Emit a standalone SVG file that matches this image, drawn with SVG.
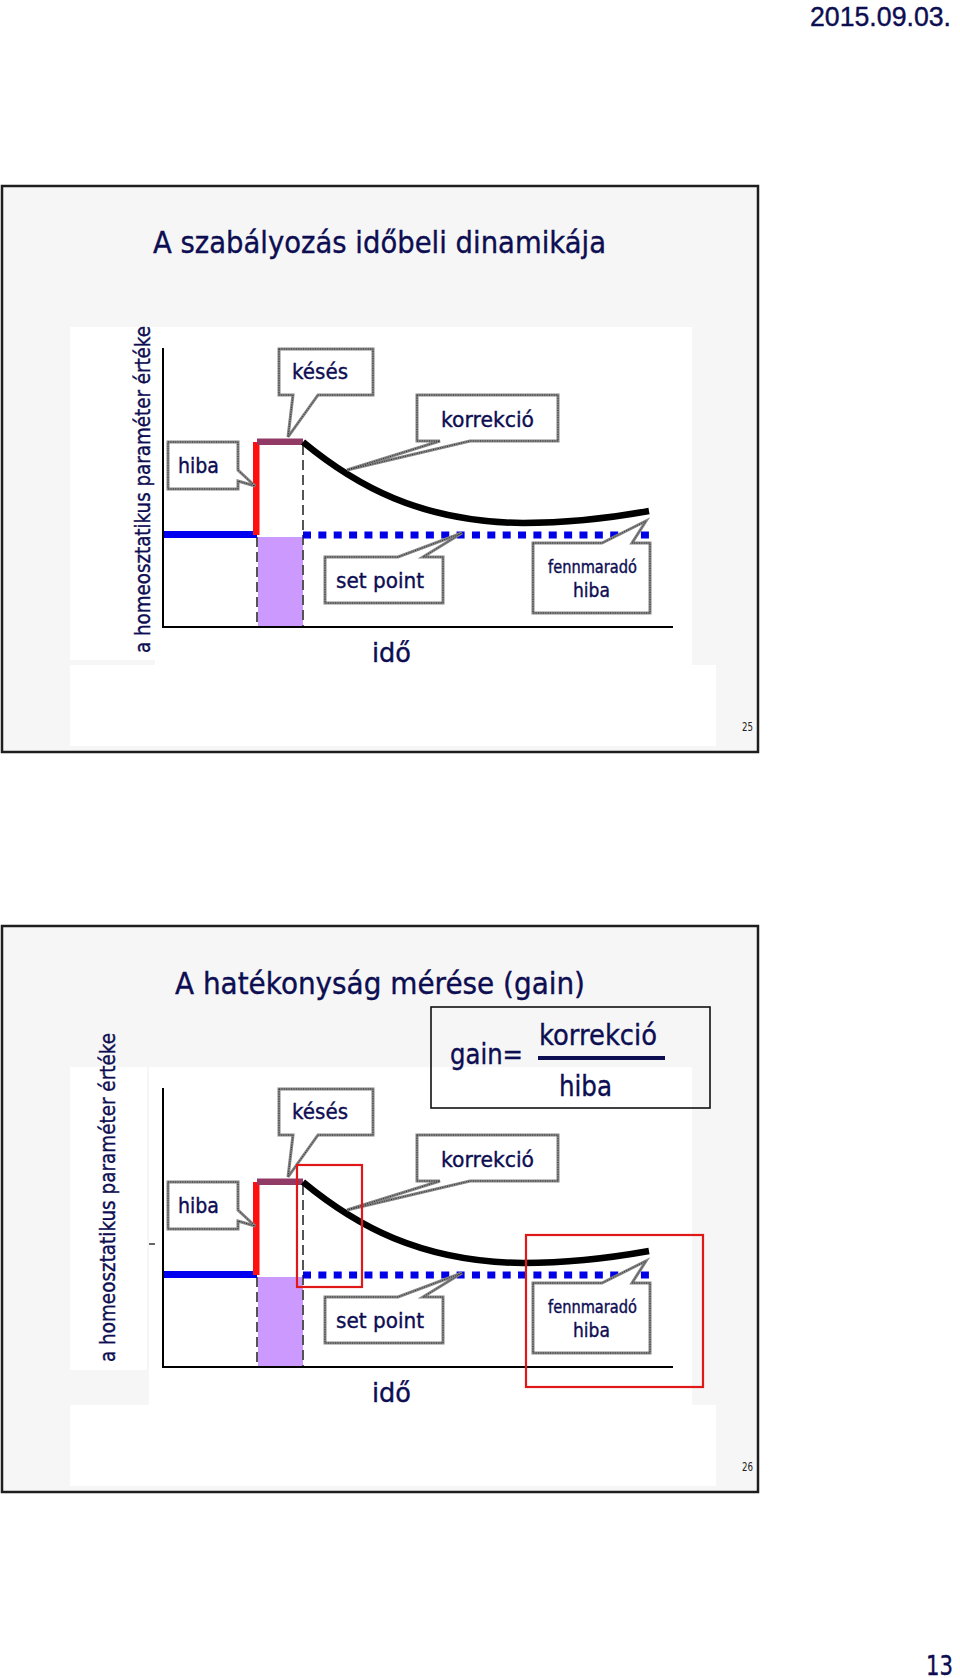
<svg xmlns="http://www.w3.org/2000/svg" width="960" height="1678" viewBox="0 0 960 1678">
<style>
text { font-family: "DejaVu Sans", "Noto Sans", sans-serif; fill: #0d0d52; stroke: #0d0d52; stroke-width: 0.4; }
.slide { fill: #f6f6f6; stroke: #1e1e1e; stroke-width: 2.5; }
.wh { fill: #ffffff; }
.axis { stroke: #000; stroke-width: 2; fill: none; }
.co { fill: #ffffff; stroke: #858585; stroke-width: 3; stroke-linejoin: miter; }
.co2 { fill: none; stroke: #2a2a2a; stroke-width: 1; stroke-dasharray: 1 1.4; }
.gdash { stroke: #555; stroke-width: 2; stroke-dasharray: 10 5; fill: none; }
.curve { stroke: #000; stroke-width: 6.5; fill: none; stroke-linecap: butt; }
.sp { stroke: #0000e6; stroke-width: 7; stroke-dasharray: 8 7.36; fill: none; }
.solid { stroke: #0000f0; stroke-width: 7; fill: none; }
.redbox { fill: none; stroke: #e01818; stroke-width: 2.2; }
.pn { fill: #222; stroke: none; font-size: 12px; }
</style>

<rect x="0" y="0" width="960" height="1678" fill="#ffffff"/>

<g id="date"><text x="810" y="26" font-size="27" style="font-family:'Liberation Sans', Arial, sans-serif" textLength="141" lengthAdjust="spacingAndGlyphs">2015.09.03.</text></g>

<!-- ================= SLIDE 1 ================= -->
<g id="slide1">
  <rect class="slide" x="2" y="186" width="756" height="566"/>
  <rect class="wh" x="70" y="327" width="85" height="333"/>
  <rect class="wh" x="155" y="327" width="537" height="338"/>
  <rect class="wh" x="70" y="665" width="646" height="81"/>
  <g id="title1"><text x="153" y="253" font-size="31" textLength="453" lengthAdjust="spacingAndGlyphs">A szabályozás időbeli dinamikája</text></g>
  <g id="ylabel1"><text transform="translate(150,653) rotate(-90)" font-size="22" textLength="327" lengthAdjust="spacingAndGlyphs">a homeosztatikus paraméter értéke</text></g>

  <g id="chart1">
    <rect x="258" y="537" width="45" height="90" fill="#cc99ff"/>
    <line class="gdash" x1="257" y1="537" x2="257" y2="627"/>
    <line class="gdash" x1="303" y1="445" x2="303" y2="627"/>
    <line class="solid" x1="163" y1="534.5" x2="257" y2="534.5"/>
    <rect x="253" y="442" width="6.5" height="93" fill="#ff1010"/>
    <rect x="257" y="438.5" width="46" height="6.5" fill="#913a66"/>
    <line class="sp" x1="303" y1="535" x2="649" y2="535"/>
    <path class="curve" d="M303,442 C355,485 420,522 523,523 C570,523 610,518 649,511"/>
    <line class="axis" x1="163" y1="348" x2="163" y2="628"/>
    <line class="axis" x1="162" y1="627" x2="673" y2="627"/>
  </g>

  <g id="keses1">
    <path class="co" d="M279,349 H373 V395 H318 L288,437 L293,395 H279 Z"/>
    <path class="co2" d="M279,349 H373 V395 H318 L288,437 L293,395 H279 Z"/>
    <text x="292" y="379" font-size="22" textLength="56" lengthAdjust="spacingAndGlyphs">késés</text>
  </g>
  <g id="korrekcio1">
    <path class="co" d="M417,395 H558 V441 H470 L347,470 L440,441 H417 Z"/>
    <path class="co2" d="M417,395 H558 V441 H470 L347,470 L440,441 H417 Z"/>
    <text x="441" y="427" font-size="22" textLength="93" lengthAdjust="spacingAndGlyphs">korrekció</text>
  </g>
  <g id="hiba1">
    <path class="co" d="M168,442 H238 V470 L255,486 L238,481 V489 H168 Z"/>
    <path class="co2" d="M168,442 H238 V470 L255,486 L238,481 V489 H168 Z"/>
    <text x="178" y="473" font-size="22" textLength="41" lengthAdjust="spacingAndGlyphs">hiba</text>
  </g>
  <g id="setpoint1">
    <path class="co" d="M325,557 H398 L462,533 L423,557 H443 V603 H325 Z"/>
    <path class="co2" d="M325,557 H398 L462,533 L423,557 H443 V603 H325 Z"/>
    <text x="336" y="588" font-size="22" textLength="88" lengthAdjust="spacingAndGlyphs">set point</text>
  </g>
  <g id="fennmarado1">
    <path class="co" d="M533,543 H602 L646,521 L632,543 H650 V613 H533 Z"/>
    <path class="co2" d="M533,543 H602 L646,521 L632,543 H650 V613 H533 Z"/>
    <text x="548" y="573" font-size="17" textLength="89" lengthAdjust="spacingAndGlyphs">fennmaradó</text>
    <text x="573" y="597" font-size="20" textLength="37" lengthAdjust="spacingAndGlyphs">hiba</text>
  </g>
  <g id="ido1"><text x="372" y="662" font-size="27" textLength="39" lengthAdjust="spacingAndGlyphs">idő</text></g>
  <g id="pn25"><text class="pn" x="742" y="731" textLength="11" lengthAdjust="spacingAndGlyphs">25</text></g>
</g>

<!-- ================= SLIDE 2 ================= -->
<g id="slide2">
  <rect class="slide" x="2" y="926" width="756" height="566"/>
  <rect class="wh" x="70" y="1067" width="77" height="303"/>
  <rect class="wh" x="149" y="1067" width="543" height="338"/>
  <rect class="wh" x="70" y="1405" width="646" height="81"/>
  <g id="title2"><text x="175" y="994" font-size="31" textLength="410" lengthAdjust="spacingAndGlyphs">A hatékonyság mérése (gain)</text></g>
  <g id="ylabel2"><text transform="translate(115,1362) rotate(-90)" font-size="22" textLength="329" lengthAdjust="spacingAndGlyphs">a homeosztatikus paraméter értéke</text></g>

  <g id="gainbox">
    <rect x="431" y="1007" width="279" height="101" fill="none" stroke="#111" stroke-width="1.6"/>
    <text x="450" y="1064" font-size="28" textLength="73" lengthAdjust="spacingAndGlyphs">gain=</text>
    <text x="539" y="1045" font-size="29" textLength="118" lengthAdjust="spacingAndGlyphs">korrekció</text>
    <line x1="538" y1="1058" x2="665" y2="1058" stroke="#0d0d52" stroke-width="4"/>
    <text x="559" y="1096" font-size="28" textLength="53" lengthAdjust="spacingAndGlyphs">hiba</text>
  </g>

  <g id="chart2">
    <rect x="258" y="1277" width="45" height="90" fill="#cc99ff"/>
    <line class="gdash" x1="257" y1="1277" x2="257" y2="1367"/>
    <line class="gdash" x1="303" y1="1185" x2="303" y2="1367"/>
    <line class="solid" x1="163" y1="1274.5" x2="257" y2="1274.5"/>
    <rect x="253" y="1182" width="6.5" height="93" fill="#ff1010"/>
    <rect x="257" y="1178.5" width="46" height="6.5" fill="#913a66"/>
    <line class="sp" x1="303" y1="1275" x2="649" y2="1275"/>
    <path class="curve" d="M303,1182 C355,1225 420,1262 523,1263 C570,1263 610,1258 649,1251"/>
    <line class="axis" x1="163" y1="1088" x2="163" y2="1368"/>
    <line class="axis" x1="162" y1="1367" x2="673" y2="1367"/>
    <line x1="149" y1="1244" x2="155" y2="1244" stroke="#333" stroke-width="1.5"/>
  </g>

  <g id="keses2">
    <path class="co" d="M279,1089 H373 V1135 H318 L288,1177 L293,1135 H279 Z"/>
    <path class="co2" d="M279,1089 H373 V1135 H318 L288,1177 L293,1135 H279 Z"/>
    <text x="292" y="1119" font-size="22" textLength="56" lengthAdjust="spacingAndGlyphs">késés</text>
  </g>
  <g id="korrekcio2">
    <path class="co" d="M417,1135 H558 V1181 H470 L347,1210 L440,1181 H417 Z"/>
    <path class="co2" d="M417,1135 H558 V1181 H470 L347,1210 L440,1181 H417 Z"/>
    <text x="441" y="1167" font-size="22" textLength="93" lengthAdjust="spacingAndGlyphs">korrekció</text>
  </g>
  <g id="hiba2">
    <path class="co" d="M168,1182 H238 V1210 L255,1226 L238,1221 V1229 H168 Z"/>
    <path class="co2" d="M168,1182 H238 V1210 L255,1226 L238,1221 V1229 H168 Z"/>
    <text x="178" y="1213" font-size="22" textLength="41" lengthAdjust="spacingAndGlyphs">hiba</text>
  </g>
  <g id="setpoint2">
    <path class="co" d="M325,1297 H398 L462,1273 L423,1297 H443 V1343 H325 Z"/>
    <path class="co2" d="M325,1297 H398 L462,1273 L423,1297 H443 V1343 H325 Z"/>
    <text x="336" y="1328" font-size="22" textLength="88" lengthAdjust="spacingAndGlyphs">set point</text>
  </g>
  <g id="fennmarado2">
    <path class="co" d="M533,1283 H602 L646,1261 L632,1283 H650 V1353 H533 Z"/>
    <path class="co2" d="M533,1283 H602 L646,1261 L632,1283 H650 V1353 H533 Z"/>
    <text x="548" y="1313" font-size="17" textLength="89" lengthAdjust="spacingAndGlyphs">fennmaradó</text>
    <text x="573" y="1337" font-size="20" textLength="37" lengthAdjust="spacingAndGlyphs">hiba</text>
  </g>
  <g id="redboxes">
    <rect class="redbox" x="297" y="1165" width="65" height="122"/>
    <rect class="redbox" x="526" y="1235" width="177" height="152"/>
  </g>
  <g id="ido2"><text x="372" y="1402" font-size="27" textLength="39" lengthAdjust="spacingAndGlyphs">idő</text></g>
  <g id="pn26"><text class="pn" x="742" y="1471" textLength="11" lengthAdjust="spacingAndGlyphs">26</text></g>
</g>

<g id="pagenum"><text x="926" y="1675" font-size="26" textLength="27" lengthAdjust="spacingAndGlyphs">13</text></g>
</svg>
